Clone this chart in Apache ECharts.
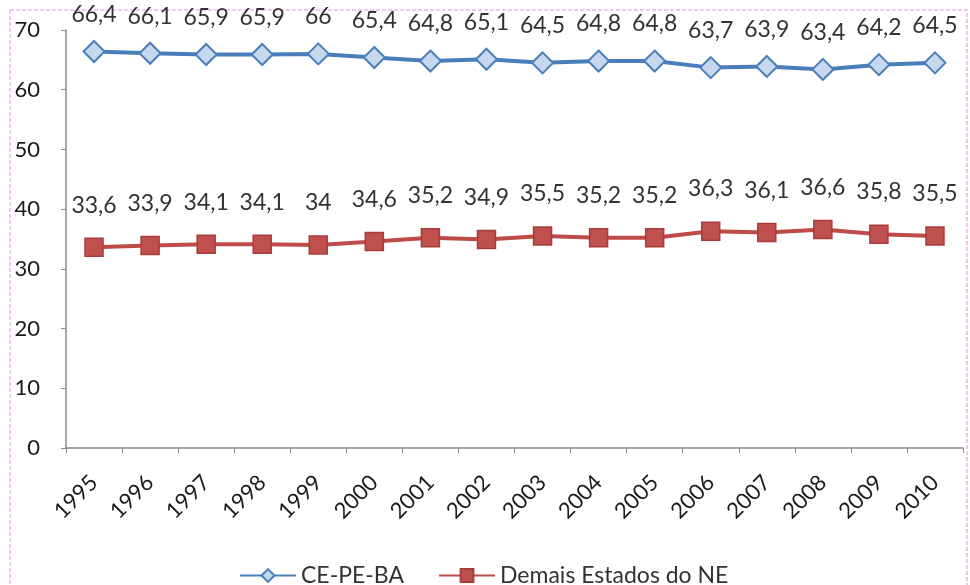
<!DOCTYPE html>
<html>
<head>
<meta charset="utf-8">
<script src="https://cdn.jsdelivr.net/npm/echarts@6/dist/echarts.min.js"></script>
<style>
  html, body { margin: 0; padding: 0; background: #fff; }
  #chart { width: 970px; height: 585px; }
</style>
</head>
<body>
<div id="chart"></div>
<script>
// Participation shares, 1995–2010
const years = ['1995','1996','1997','1998','1999','2000','2001','2002','2003','2004','2005','2006','2007','2008','2009','2010'];
const cePeBa = [66.4, 66.1, 65.9, 65.9, 66, 65.4, 64.8, 65.1, 64.5, 64.8, 64.8, 63.7, 63.9, 63.4, 64.2, 64.5];
const demaisNE = [33.6, 33.9, 34.1, 34.1, 34, 34.6, 35.2, 34.9, 35.5, 35.2, 35.2, 36.3, 36.1, 36.6, 35.8, 35.5];
const seriesNames = ['CE-PE-BA', 'Demais Estados do NE'];

const FONT = 'Lato, "Open Sans", sans-serif';
const fmt = v => String(v).replace('.', ',');

const chart = echarts.init(document.getElementById('chart'), null, { renderer: 'canvas' });
chart.setOption({
  animation: false,
  backgroundColor: '#fff',
  textStyle: { fontFamily: FONT },
  graphic: [{
    type: 'rect',
    shape: { x: 10, y: 10, width: 957, height: 590 },
    style: { fill: 'none', stroke: '#f0b4f0', lineWidth: 1.5, lineDash: [4, 2] },
    silent: true
  }],
  grid: { left: 66, right: 7, top: 30, bottom: 137 },
  legend: {
    top: 559,
    left: 234,
    itemWidth: 56,
    itemHeight: 16,
    itemGap: 34,
    textStyle: { fontSize: 23, color: '#333', fontFamily: FONT },
    data: seriesNames
  },
  xAxis: {
    type: 'category',
    data: years,
    boundaryGap: true,
    axisLine: { lineStyle: { color: '#8c8c8c', width: 1.5 } },
    axisTick: { show: true, length: 5, lineStyle: { color: '#8c8c8c' } },
    axisLabel: { rotate: 45, fontSize: 22, color: '#1a1a1a', margin: 31, fontFamily: FONT }
  },
  yAxis: {
    type: 'value',
    min: 0,
    max: 70,
    interval: 10,
    splitLine: { show: false },
    axisLine: { show: true, lineStyle: { color: '#8c8c8c', width: 1.5 } },
    axisTick: { show: true, length: 5, lineStyle: { color: '#8c8c8c' } },
    axisLabel: { fontSize: 22, color: '#1a1a1a', margin: 26, fontFamily: FONT }
  },
  series: [
    {
      name: seriesNames[0],
      type: 'line',
      data: cePeBa,
      symbol: 'diamond',
      symbolSize: 21,
      lineStyle: { color: '#4a7ebb', width: 4 },
      itemStyle: { color: '#c6d8ef', borderColor: '#4a7ebb', borderWidth: 2 },
      label: {
        show: true, position: 'top', distance: 14,
        fontSize: 23, color: '#333', fontFamily: FONT,
        formatter: p => fmt(p.value)
      }
    },
    {
      name: seriesNames[1],
      type: 'line',
      data: demaisNE,
      symbol: 'rect',
      symbolSize: 18,
      lineStyle: { color: '#be4b48', width: 4 },
      itemStyle: { color: '#c0504d', borderColor: '#a83c3a', borderWidth: 1.5 },
      label: {
        show: true, position: 'top', distance: 21,
        fontSize: 23, color: '#333', fontFamily: FONT,
        formatter: p => fmt(p.value)
      }
    }
  ]
});
</script>
</body>
</html>
